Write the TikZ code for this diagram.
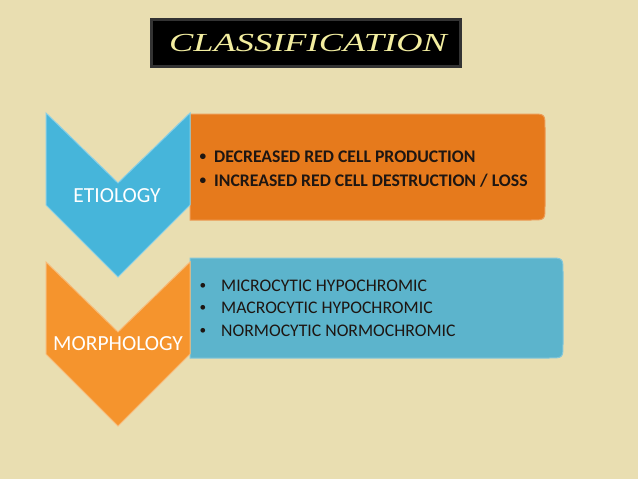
\documentclass[tikz,border=0pt]{standalone}
\usepackage{fontspec}
\setmainfont{Carlito}
\newfontfamily\titlefont{Liberation Serif}
\usetikzlibrary{calc}

\definecolor{bgbeige}{RGB}{233,222,177}
\definecolor{chevblue}{RGB}{70,181,218}
\definecolor{chevorange}{RGB}{245,148,45}
\definecolor{boxorange}{RGB}{230,122,28}
\definecolor{boxblue}{RGB}{92,180,204}
\definecolor{titleyellow}{RGB}{243,238,160}
\definecolor{inktext}{RGB}{30,22,18}

\newcommand{\dotitem}{\raisebox{0.2ex}{\scalebox{0.75}{\textbullet}}}

\tikzset{
  chevron/.style={draw=#1!65!white, line width=1pt, fill=#1},
  panel/.style={draw=#1!75!white, line width=1pt, fill=#1},
  chevlabel/.style={text=white, font=\fontsize{21.5}{24}\selectfont},
  itemtext/.style={anchor=west, align=left, text=inktext},
}

\begin{document}
\begin{tikzpicture}[x=1pt, y=-1pt]
  \useasboundingbox[fill=bgbeige] (0,0) rectangle (638,479);

  %% Title plate
  \node[fill=black, draw=black!80, line width=3pt,
        minimum width=309pt, minimum height=47pt] (title) at (306,43) {};
  \node[text=titleyellow, xscale=1.4] (titletext) at (308,43)
    {\titlefont\itshape\fontsize{26}{28}\selectfont CLASSIFICATION};

  %% Right panels: straight left side, rounded right side (r = 14)
  \draw[panel=boxorange] (190,114) -- (531,114) .. controls (545,114) .. (545,128)
    -- (545,206) .. controls (545,220) .. (531,220) -- (190,220) -- cycle;
  \draw[panel=boxblue] (190,258) -- (549,258) .. controls (563,258) .. (563,272)
    -- (563,344) .. controls (563,358) .. (549,358) -- (190,358) -- cycle;

  %% Chevrons: top edge at \t, notch 70 deep, sides 92 long
  \foreach \t/\col in {113/chevblue, 262/chevorange}{
    \draw[chevron=\col] (46,\t) -- (118,\t+70) -- (190,\t) -- (190,\t+92)
      -- (118,\t+164) -- (46,\t+92) -- cycle;
  }

  \node[chevlabel] (etiology) at (117,196) {ETIOLOGY};
  \node[chevlabel] (morphology) at (118,344) {MORPHOLOGY};

  %% Panel texts
  \node[itemtext, font=\bfseries\fontsize{17.7}{23.5}\selectfont] (causes) at (196,169)
    {\dotitem\hspace{8pt}DECREASED RED CELL PRODUCTION\\
     \dotitem\hspace{8pt}INCREASED RED CELL DESTRUCTION / LOSS};
  \node[itemtext, font=\fontsize{17.7}{22.5}\selectfont] (shapes) at (196,308)
    {\dotitem\hspace{15pt}MICROCYTIC HYPOCHROMIC\\
     \dotitem\hspace{15pt}MACROCYTIC HYPOCHROMIC\\
     \dotitem\hspace{15pt}NORMOCYTIC NORMOCHROMIC};
\end{tikzpicture}
\end{document}
